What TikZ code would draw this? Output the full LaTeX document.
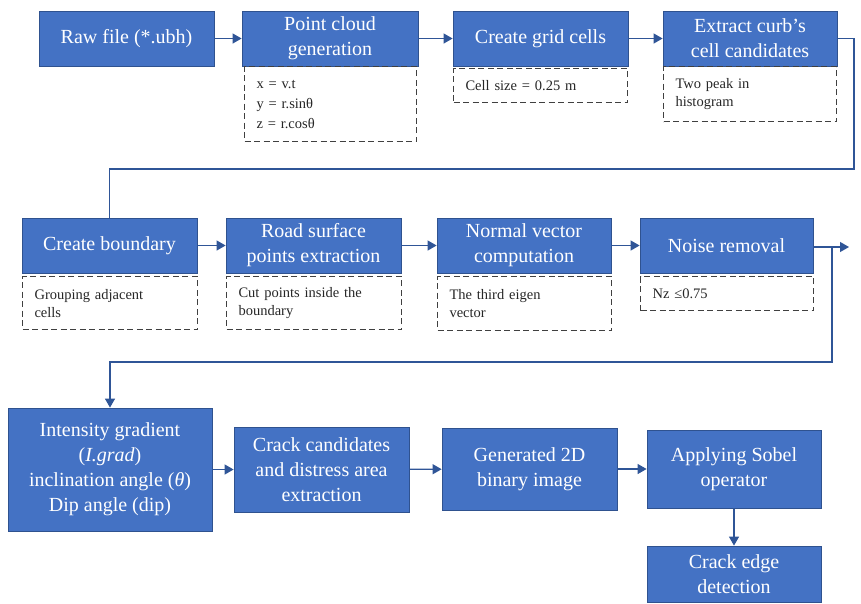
\documentclass[tikz,border=0pt]{standalone}
\usepackage{fontspec}
\setmainfont{Liberation Serif}
\usetikzlibrary{arrows.meta}
\definecolor{boxfill}{HTML}{4472C4}
\definecolor{boxline}{HTML}{2F528F}
\definecolor{arrline}{HTML}{2F5597}
\definecolor{dashline}{HTML}{404040}
\tikzset{
  bluebox/.style={draw=boxline, fill=boxfill, line width=0.8pt, text=white, align=center, inner sep=0pt, font=\fontsize{20}{25}\selectfont},
  notebox/.style={draw=dashline, dash pattern=on 6pt off 3.5pt, line width=1.1pt, anchor=north west, align=left, inner xsep=12pt, inner ysep=0pt, font=\fontsize{14.5}{18}\selectfont, text=black!85},
  arr/.style={draw=arrline, line width=1.2pt, -{Triangle[length=9pt,width=10pt]}},
  conn/.style={draw=arrline, line width=1.2pt},
}
\begin{document}
\begin{tikzpicture}[x=1pt,y=-1pt]
\useasboundingbox (0,0) rectangle (861,603);
% row 1
\node[bluebox, minimum width=175pt, minimum height=55pt] (raw) at (126.5,38.5) {Raw file (*.ubh)};
\node[bluebox, minimum width=176pt, minimum height=55pt] (pc) at (330,38.5) {Point cloud\\generation};
\node[bluebox, minimum width=175pt, minimum height=55pt] (grid) at (540.5,38.5) {Create grid cells};
\node[bluebox, minimum width=174pt, minimum height=55pt] (ext) at (750,38.5) {Extract curb’s\\cell candidates};
\node[notebox, minimum width=172pt, minimum height=75pt, text width=148pt, font=\fontsize{14.5}{20}\selectfont] (pcn) at (244,66) {x = v.t\\y = r.sinθ\\z = r.cosθ};
\node[notebox, minimum width=174pt, minimum height=34pt, text width=150pt] (gridn) at (453,68) {Cell size = 0.25 m};
\node[notebox, minimum width=173pt, minimum height=55pt, text width=149pt] (extn) at (663,66) {Two peak in\\histogram};
% row 2
\node[bluebox, minimum width=175pt, minimum height=55pt] (cb) at (109.5,245.5) {Create boundary};
\node[bluebox, minimum width=175pt, minimum height=55pt] (rs) at (313.5,245.5) {Road surface\\points extraction};
\node[bluebox, minimum width=174pt, minimum height=55pt] (nv) at (524,245.5) {Normal vector\\computation};
\node[bluebox, minimum width=173pt, minimum height=55pt] (nr) at (726.5,245.5) {Noise removal};
\node[notebox, minimum width=175pt, minimum height=53pt, text width=151pt] (cbn) at (22,276) {Grouping adjacent\\cells};
\node[notebox, minimum width=175pt, minimum height=53pt, text width=151pt] (rsn) at (226,276) {Cut points inside the\\boundary};
\node[notebox, minimum width=174pt, minimum height=54pt, text width=150pt] (nvn) at (437,276) {The third eigen\\vector};
\node[notebox, minimum width=173pt, minimum height=34pt, text width=149pt] (nrn) at (640,276) {Nz ≤0.75};
% row 3
\node[bluebox, minimum width=204pt, minimum height=123pt] (int) at (110,469.5) {Intensity gradient\\(\textit{I.grad})\\inclination angle (\textit{θ})\\Dip angle (dip)};
\node[bluebox, minimum width=175pt, minimum height=85pt] (cc) at (321.5,469.5) {Crack candidates\\and distress area\\extraction};
\node[bluebox, minimum width=175pt, minimum height=82pt] (gen) at (529.5,469) {Generated 2D\\binary image};
\node[bluebox, minimum width=174pt, minimum height=78pt] (sob) at (734,469) {Applying Sobel\\operator};
\node[bluebox, minimum width=174pt, minimum height=56pt] (edge) at (734,574) {Crack edge\\detection};
% connectors
\coordinate (t1) at (854,169);
\coordinate (out) at (849,247);
\coordinate (b1) at (832,247);
\coordinate (b2) at (832,362);
\draw[arr] (raw) -- (pc);
\draw[arr] (pc) -- (grid);
\draw[arr] (grid) -- (ext);
\draw[conn] (ext.east) -| (t1) -| (cb.north);
\draw[arr] (cb) -- (rs);
\draw[arr] (rs) -- (nv);
\draw[arr] (nv) -- (nr);
\draw[arr] (nr.east |- out) -- (out);
\draw[arr] (b1) -- (b2) -| (int.north);
\draw[arr] (int.east |- cc.west) -- (cc.west);
\draw[arr] (cc) -- (gen);
\draw[arr] (gen) -- (sob);
\draw[arr] (sob) -- (edge);
\end{tikzpicture}
\end{document}
